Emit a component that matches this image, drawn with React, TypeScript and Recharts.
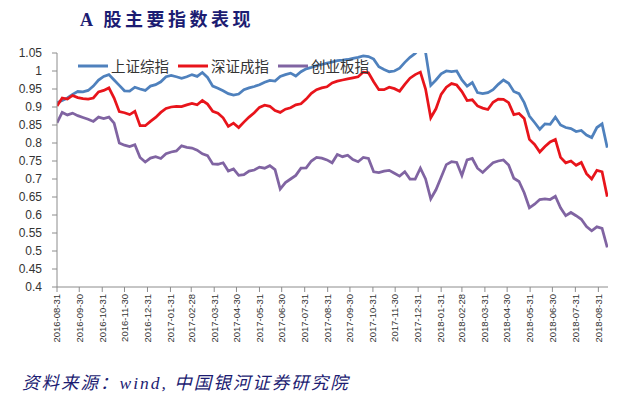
import React from 'react';
import { LineChart, Line, XAxis, YAxis, Legend } from 'recharts';

// weekly sample dates
const DATES = [
  '2016-08-31','2016-09-07','2016-09-14','2016-09-21','2016-09-28','2016-10-05','2016-10-12','2016-10-19','2016-10-26',
  '2016-11-02','2016-11-09','2016-11-16','2016-11-23','2016-11-30','2016-12-07','2016-12-14','2016-12-21','2016-12-28',
  '2017-01-04','2017-01-11','2017-01-18','2017-01-25','2017-02-01','2017-02-08','2017-02-15','2017-02-22','2017-03-01',
  '2017-03-08','2017-03-15','2017-03-22','2017-03-29','2017-04-05','2017-04-12','2017-04-19','2017-04-26','2017-05-03',
  '2017-05-10','2017-05-17','2017-05-24','2017-05-31','2017-06-07','2017-06-14','2017-06-21','2017-06-28','2017-07-05',
  '2017-07-12','2017-07-19','2017-07-26','2017-08-02','2017-08-09','2017-08-16','2017-08-23','2017-08-30','2017-09-06',
  '2017-09-13','2017-09-20','2017-09-27','2017-10-04','2017-10-11','2017-10-18','2017-10-25','2017-11-01','2017-11-08',
  '2017-11-15','2017-11-22','2017-11-29','2017-12-06','2017-12-13','2017-12-20','2017-12-27','2018-01-03','2018-01-10',
  '2018-01-17','2018-01-24','2018-01-31','2018-02-07','2018-02-14','2018-02-21','2018-02-28','2018-03-07','2018-03-14',
  '2018-03-21','2018-03-28','2018-04-04','2018-04-11','2018-04-18','2018-04-25','2018-05-02','2018-05-09','2018-05-16',
  '2018-05-23','2018-05-30','2018-06-06','2018-06-13','2018-06-20','2018-06-27','2018-07-04','2018-07-11','2018-07-18',
  '2018-07-25','2018-08-01','2018-08-08','2018-08-15','2018-08-22','2018-08-29','2018-09-05','2018-09-12',
];

const SH = [
  0.912,0.918,0.925,0.935,0.943,0.942,0.946,0.958,0.975,0.985,0.99,0.975,0.96,0.945,0.944,0.955,0.95,0.946,
  0.958,0.962,0.97,0.984,0.988,0.984,0.98,0.984,0.99,0.985,0.996,0.982,0.958,0.952,0.945,0.937,0.933,0.936,
  0.948,0.953,0.957,0.962,0.969,0.974,0.972,0.985,0.99,0.994,0.986,0.998,1.006,1.01,1.015,1.018,1.022,1.025,
  1.029,1.03,1.032,1.035,1.038,1.042,1.04,1.033,1.012,1.004,0.998,1.0,1.008,1.024,1.038,1.049,1.065,1.052,
  0.96,0.975,0.992,1.0,0.998,1.0,0.975,0.958,0.968,0.94,0.937,0.94,0.948,0.963,0.975,0.966,0.943,0.937,
  0.912,0.875,0.857,0.838,0.853,0.852,0.872,0.85,0.843,0.84,0.832,0.835,0.822,0.815,0.843,0.853,0.787,
];

const SZ = [
  0.903,0.925,0.922,0.932,0.926,0.923,0.922,0.925,0.942,0.946,0.953,0.925,0.887,0.884,0.879,0.888,0.848,0.848,
  0.86,0.871,0.885,0.896,0.9,0.902,0.901,0.906,0.91,0.906,0.918,0.908,0.888,0.883,0.87,0.846,0.855,0.843,
  0.858,0.872,0.884,0.899,0.905,0.902,0.89,0.885,0.894,0.898,0.906,0.909,0.922,0.938,0.948,0.953,0.956,0.967,
  0.972,0.975,0.978,0.981,0.984,0.997,0.995,0.97,0.948,0.948,0.955,0.951,0.944,0.963,0.98,0.99,0.997,0.95,
  0.87,0.895,0.935,0.955,0.965,0.961,0.943,0.918,0.92,0.903,0.897,0.893,0.913,0.922,0.921,0.912,0.879,0.882,
  0.868,0.81,0.796,0.775,0.79,0.803,0.81,0.76,0.745,0.75,0.738,0.746,0.715,0.7,0.724,0.72,0.651,
];

const CYB = [
  0.856,0.885,0.878,0.883,0.876,0.871,0.866,0.86,0.872,0.868,0.872,0.855,0.8,0.794,0.79,0.795,0.76,0.747,
  0.758,0.762,0.757,0.77,0.775,0.778,0.792,0.788,0.786,0.78,0.77,0.765,0.742,0.741,0.745,0.722,0.728,0.71,
  0.712,0.722,0.725,0.733,0.73,0.737,0.726,0.672,0.69,0.7,0.71,0.73,0.731,0.75,0.76,0.758,0.753,0.745,
  0.768,0.762,0.766,0.754,0.748,0.76,0.757,0.72,0.718,0.722,0.724,0.716,0.708,0.72,0.7,0.7,0.73,0.7,
  0.645,0.67,0.705,0.74,0.748,0.746,0.71,0.753,0.757,0.73,0.718,0.732,0.745,0.75,0.753,0.739,0.702,0.693,
  0.662,0.62,0.63,0.643,0.645,0.643,0.652,0.62,0.598,0.607,0.598,0.588,0.568,0.556,0.567,0.563,0.51,
];

const SERIES_NAMES = ['上证综指', '深证成指', '创业板指'];
const SERIES_COLORS = ['#4F81BD', '#E8141B', '#8064A2'];

const X_TICK_LABELS = [
  '2016-08-31','2016-09-30','2016-10-31','2016-11-30','2016-12-31','2017-01-31','2017-02-28','2017-03-31',
  '2017-04-30','2017-05-31','2017-06-30','2017-07-31','2017-08-31','2017-09-30','2017-10-31','2017-11-30',
  '2017-12-31','2018-01-31','2018-02-28','2018-03-31','2018-04-30','2018-05-31','2018-06-30','2018-07-31','2018-08-31',
];
const X_START = '2016-08-31';
const X_END = '2018-09-13';

const Y_TICKS = [0.4, 0.45, 0.5, 0.55, 0.6, 0.65, 0.7, 0.75, 0.8, 0.85, 0.9, 0.95, 1, 1.05];

const TITLE = 'A 股主要指数表现';
const SOURCE = '资料来源：wind, 中国银河证券研究院';

const toDay = (s: string) => Date.parse(s) / 86400000;
const dayToLabel = (d: number) => new Date(Math.round(d) * 86400000).toISOString().slice(0, 10);

const data = DATES.map((d, i) => ({ t: toDay(d), sh: SH[i], sz: SZ[i], cyb: CYB[i] }));

const XTick = (props: any) => {
  const { x, y, payload } = props;
  return (
    <text
      x={x}
      y={y}
      dy="0.35em"
      textAnchor="end"
      transform={`rotate(-90, ${x}, ${y})`}
      fontSize={9.5}
      fontFamily="Liberation Sans, Arial, sans-serif"
      fill="#333"
    >
      {dayToLabel(payload.value)}
    </text>
  );
};

const LegendContent = (props: any) => {
  const items = [...(props.payload || [])].sort(
    (a: any, b: any) => SERIES_NAMES.indexOf(a.value) - SERIES_NAMES.indexOf(b.value)
  );
  return (
    <div style={{ display: 'flex', alignItems: 'center' }}>
      {items.map((p: any, i: number) => (
        <div key={i} style={{ display: 'flex', alignItems: 'center', width: 100 }}>
          <svg width={31} height={6} style={{ display: 'block' }}>
            <line x1={0} y1={3} x2={30} y2={3} stroke={p.color} strokeWidth={3} />
          </svg>
          <span
            style={{
              marginLeft: 2,
              fontSize: 14.5,
              fontFamily: '"Noto Sans CJK SC", sans-serif',
              color: '#333',
              lineHeight: '16px',
            }}
          >
            {p.value}
          </span>
        </div>
      ))}
    </div>
  );
};

export default function App() {
  return (
    <div style={{ position: 'absolute', left: 0, top: 0, width: 635, height: 398, background: '#fff', overflow: 'hidden' }}>
      <div
        style={{
          position: 'absolute',
          left: 80,
          top: 5,
          fontSize: 18,
          fontWeight: 'bold',
          letterSpacing: 3.5,
          color: '#1c1c72',
          fontFamily: '"Liberation Serif", "Noto Sans CJK SC", serif',
          whiteSpace: 'nowrap',
        }}
      >
        {TITLE}
      </div>
      <LineChart
        width={635}
        height={398}
        data={data}
        margin={{ top: 53, right: 27, bottom: 51, left: 0 }}
      >
        <XAxis
          dataKey="t"
          type="number"
          domain={[toDay(X_START), toDay(X_END)]}
          ticks={X_TICK_LABELS.map(toDay)}
          interval={0}
          tick={<XTick />}
          tickSize={5}
          tickMargin={2}
          height={60}
          stroke="#8c8c8c"
          allowDataOverflow
        />
        <YAxis
          type="number"
          domain={[0.4, 1.05]}
          ticks={Y_TICKS}
          interval={0}
          allowDataOverflow
          width={57}
          tickSize={5}
          tickMargin={10}
          stroke="#8c8c8c"
          tick={{ fill: '#333', fontSize: 12, fontFamily: 'Liberation Sans, Arial, sans-serif' }}
        />
        <Legend
          layout="horizontal"
          verticalAlign="middle"
          align="center"
          content={<LegendContent />}
          wrapperStyle={{ position: 'absolute', top: 58, left: 78, width: 320, height: 20 }}
        />
        <Line type="linear" dataKey="sh" name={SERIES_NAMES[0]} stroke={SERIES_COLORS[0]} strokeWidth={2.75} dot={false} isAnimationActive={false} />
        <Line type="linear" dataKey="sz" name={SERIES_NAMES[1]} stroke={SERIES_COLORS[1]} strokeWidth={2.75} dot={false} isAnimationActive={false} />
        <Line type="linear" dataKey="cyb" name={SERIES_NAMES[2]} stroke={SERIES_COLORS[2]} strokeWidth={2.75} dot={false} isAnimationActive={false} />
      </LineChart>
      <div
        style={{
          position: 'absolute',
          left: 22,
          top: 369,
          fontSize: 17.5,
          fontStyle: 'italic',
          color: '#1c1c72',
          fontFamily: '"Liberation Serif", "Noto Sans CJK SC", serif',
          letterSpacing: 2,
          whiteSpace: 'nowrap',
        }}
      >
        {SOURCE}
      </div>
    </div>
  );
}
